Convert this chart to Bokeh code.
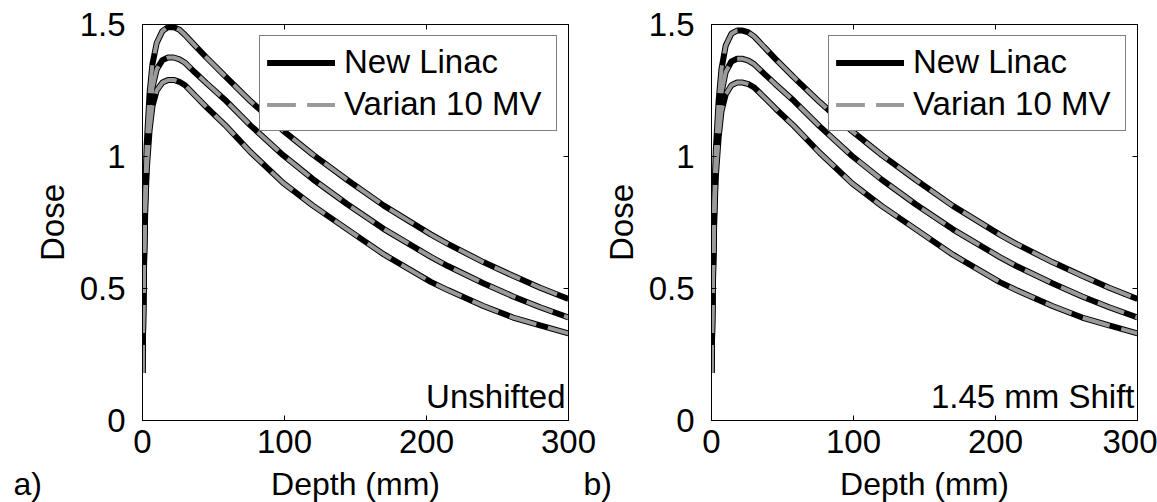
from bokeh.plotting import figure
from bokeh.models import Range1d, LinearAxis, FixedTicker, Label, Legend, LegendItem
from bokeh.layouts import row, column
from bokeh.embed import file_html
from bokeh.resources import INLINE

# ---------------- data ----------------
depth = [0, 1, 2, 3, 5, 7, 10, 14, 18, 22, 26, 30, 37, 45, 58, 76, 99, 120,
         144, 170, 203, 215, 240, 261, 280, 300]

# panel a) Unshifted
a_high = [0.18, 0.60, 0.88, 1.05, 1.24, 1.35, 1.43, 1.475, 1.49, 1.49, 1.48, 1.46,
          1.42, 1.375, 1.305, 1.21, 1.098, 1.007, 0.912, 0.814, 0.705, 0.669,
          0.600, 0.548, 0.503, 0.46]
a_mid = [0.18, 0.58, 0.84, 0.99, 1.16, 1.26, 1.33, 1.365, 1.375, 1.375, 1.368,
         1.355, 1.318, 1.278, 1.215, 1.118, 1.005, 0.914, 0.82, 0.725, 0.62,
         0.585, 0.520, 0.47, 0.429, 0.39]
a_low = [0.18, 0.56, 0.81, 0.95, 1.10, 1.19, 1.25, 1.28, 1.29, 1.29, 1.283, 1.27,
         1.231, 1.187, 1.12, 1.017, 0.90, 0.814, 0.725, 0.629, 0.525, 0.494,
         0.434, 0.39, 0.36, 0.33]

# panel b) 1.45 mm shift
b_high = [0.18, 0.55, 0.84, 1.02, 1.21, 1.33, 1.42, 1.465, 1.477, 1.477, 1.47,
          1.455, 1.415, 1.37, 1.30, 1.207, 1.096, 1.005, 0.911, 0.813, 0.704,
          0.668, 0.600, 0.548, 0.503, 0.46]
b_mid = [0.18, 0.53, 0.80, 0.96, 1.13, 1.24, 1.32, 1.36, 1.37, 1.37, 1.363, 1.35,
         1.314, 1.274, 1.211, 1.115, 1.002, 0.912, 0.818, 0.724, 0.619, 0.584,
         0.520, 0.47, 0.429, 0.39]
b_low = [0.18, 0.51, 0.77, 0.92, 1.07, 1.17, 1.235, 1.27, 1.28, 1.28, 1.274, 1.262,
         1.225, 1.182, 1.116, 1.015, 0.898, 0.812, 0.724, 0.628, 0.524, 0.493,
         0.434, 0.39, 0.36, 0.33]

x_ticks = [0, 100, 200, 300]
y_ticks = [0, 0.5, 1, 1.5]
y_tick_labels = {0: "0", 0.5: "0.5", 1: "1", 1.5: "1.5"}

series_names = ["New Linac", "Varian 10 MV"]
panel_notes = ["Unshifted", "1.45 mm Shift"]
panel_tags = ["a)", "b)"]
x_title = "Depth (mm)"
y_title = "Dose"

FONT = "Liberation Sans"
FS = "33px"
FS_STRIP = "32px"
PANEL_H = 465
STRIP_H = 502 - PANEL_H


def style_axis(ax, labels=True):
    ax.major_tick_in = 5
    ax.major_tick_out = 0
    ax.minor_tick_in = 0
    ax.minor_tick_out = 0
    ax.axis_line_color = "black"
    ax.major_tick_line_color = "black"
    ax.major_label_text_font = FONT
    ax.axis_label_text_font = FONT
    ax.axis_label_text_font_size = FS
    ax.axis_label_text_font_style = "normal"
    ax.axis_label_text_color = "black"
    if labels:
        ax.major_label_text_font_size = FS
        ax.major_label_text_color = "black"
    else:
        ax.major_label_text_font_size = "1px"
        ax.major_label_text_color = None
        ax.major_label_standoff = 0


def make_panel(width, left_border, right_border, curves, note):
    p = figure(width=width, height=PANEL_H, x_range=Range1d(0, 300),
               y_range=Range1d(0, 1.5), output_backend="svg",
               toolbar_location=None, min_border_left=left_border,
               min_border_right=right_border, min_border_top=24,
               min_border_bottom=PANEL_H - 420, y_axis_label=y_title)
    p.grid.visible = False
    p.outline_line_color = "black"
    p.background_fill_color = "white"
    p.border_fill_color = "white"

    p.xaxis.ticker = FixedTicker(ticks=x_ticks)
    p.yaxis.ticker = FixedTicker(ticks=y_ticks)
    p.yaxis.major_label_overrides = y_tick_labels
    for ax in p.xaxis + p.yaxis:
        style_axis(ax)
    p.xaxis.major_label_standoff = 9
    p.xaxis.major_label_text_line_height = 1.0
    p.yaxis.major_label_standoff = 17
    p.yaxis.axis_label_standoff = 6

    top = LinearAxis(ticker=FixedTicker(ticks=x_ticks))
    right = LinearAxis(ticker=FixedTicker(ticks=y_ticks))
    style_axis(top, labels=False)
    style_axis(right, labels=False)
    p.add_layout(top, "above")
    p.add_layout(right, "right")

    black_r, gray_r = [], []
    for ys in curves:
        black_r.append(p.line(depth, ys, line_color="black", line_width=6))
    for ys in curves:
        gray_r.append(p.line(depth, ys, line_color="#9a9a9a", line_width=4,
                             line_dash="28 12"))

    legend = Legend(items=[LegendItem(label=series_names[0], renderers=black_r),
                           LegendItem(label=series_names[1], renderers=gray_r)],
                    location="top_right", margin=11, padding=7, spacing=4,
                    glyph_width=68, glyph_height=37, label_height=37,
                    label_width=205, label_standoff=9, label_text_font=FONT,
                    label_text_font_size=FS, label_text_color="black",
                    border_line_color="black", border_line_width=1,
                    background_fill_color="white", background_fill_alpha=1.0)
    p.add_layout(legend)

    p.add_layout(Label(x=297.9, y=0.0227, text=note, text_align="right",
                       text_baseline="bottom", text_font=FONT,
                       text_font_size=FS, text_color="black"))
    return p


p1 = make_panel(597, 142, 29, [a_high, a_mid, a_low], panel_notes[0])
p2 = make_panel(560, 114, 20, [b_high, b_mid, b_low], panel_notes[1])

# bottom strip (pixel coordinates) holding the x titles and panel tags
strip = figure(width=1157, height=STRIP_H, x_range=Range1d(0, 1157),
               y_range=Range1d(0, STRIP_H), output_backend="svg",
               toolbar_location=None, x_axis_type=None, y_axis_type=None,
               min_border=0)
strip.outline_line_color = None
strip.grid.visible = False
strip.background_fill_color = "white"
strip.border_fill_color = "white"
for tx, txt, align in [(13, panel_tags[0], "left"), (355, x_title, "center"),
                       (583, panel_tags[1], "left"), (924, x_title, "center")]:
    strip.add_layout(Label(x=tx, y=0.5, text=txt, text_align=align,
                           text_baseline="bottom", text_font=FONT,
                           text_font_size=FS_STRIP, text_line_height=1.0,
                           text_color="black"))

layout = column(row(p1, p2), strip)
open("out.html", "w").write(file_html(layout, INLINE))
